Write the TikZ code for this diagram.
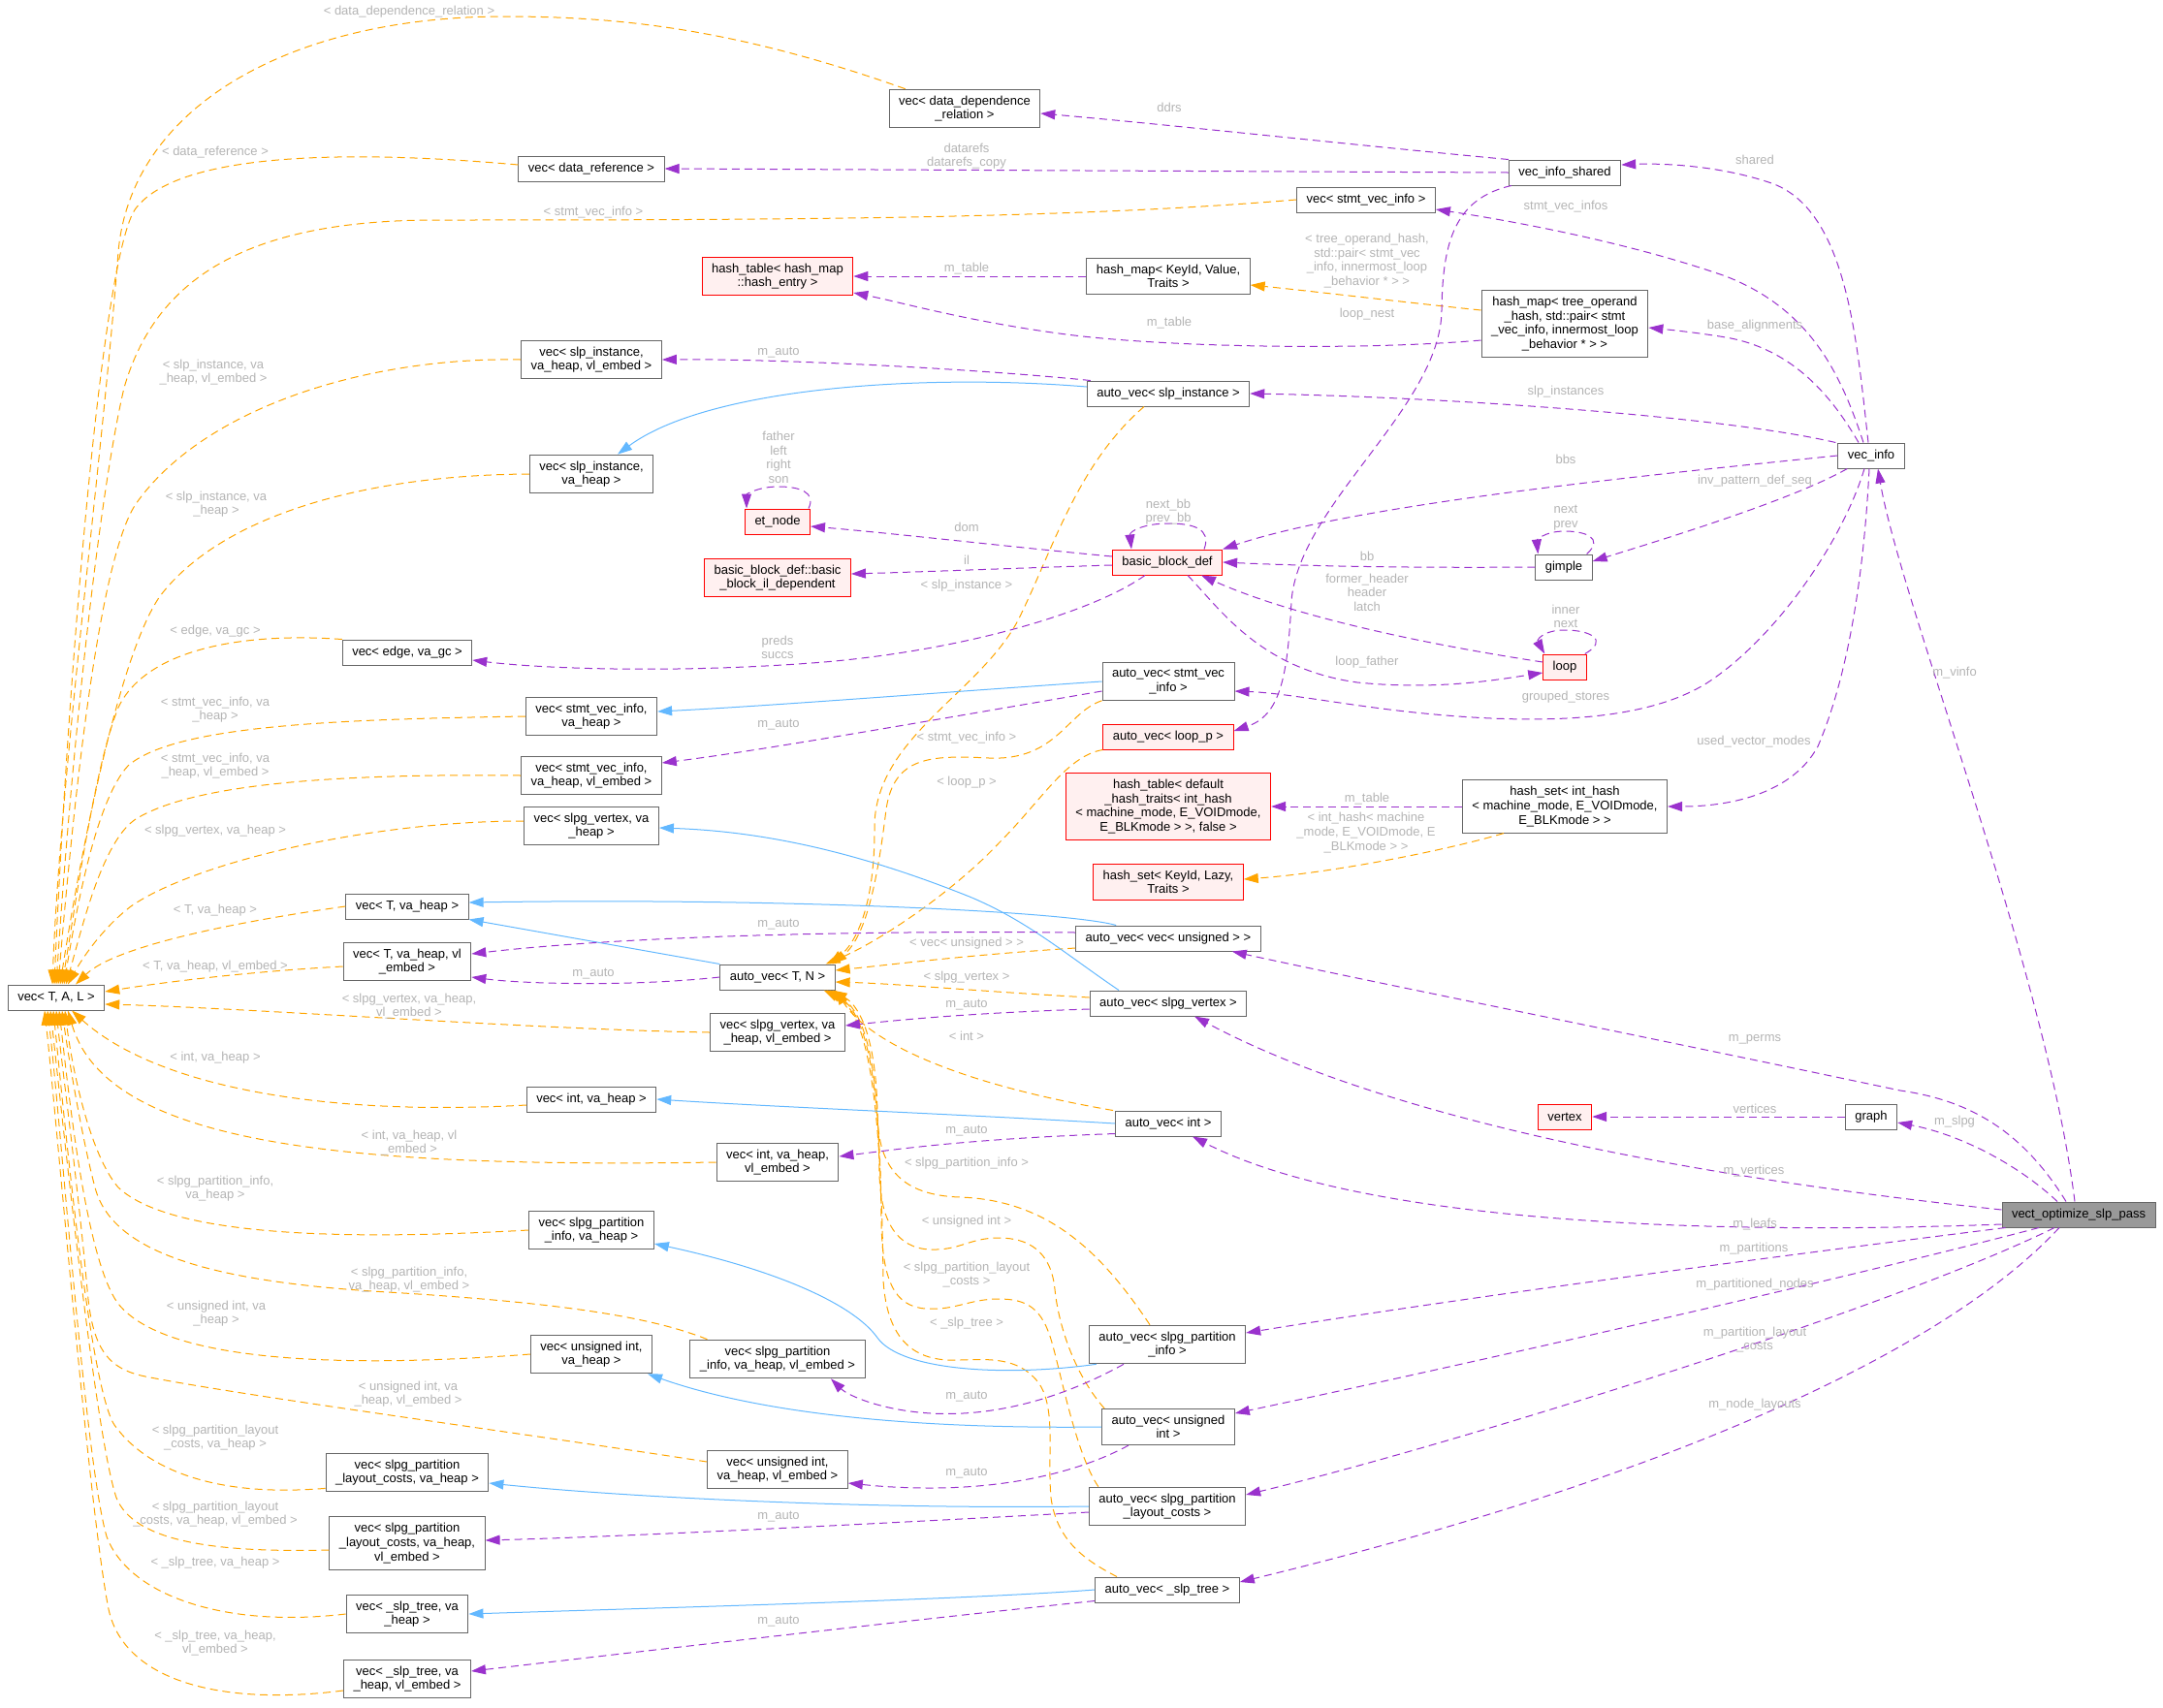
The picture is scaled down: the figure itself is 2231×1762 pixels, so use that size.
\documentclass[tikz,border=0pt]{standalone}
\usepackage{fontspec}
\setmainfont{Liberation Sans}
\usetikzlibrary{arrows.meta,calc}
\definecolor{nodeborder}{HTML}{666666}
\definecolor{undocfill}{HTML}{FFF0F0}
\definecolor{focusfill}{HTML}{999999}
\definecolor{tmplorange}{HTML}{FFA500}
\definecolor{usepurple}{HTML}{9A32CD}
\definecolor{inhblue}{HTML}{63B8FF}
\definecolor{labelgray}{HTML}{B4B4B4}

\begin{document}
\begin{tikzpicture}[
    x=1pt, y=-1pt,
    every node/.style={align=center, font=\fontsize{13}{14.6}\selectfont},
    classbox/.style={
        rectangle, draw=nodeborder, line width=1pt, fill=white,
        inner xsep=10pt, inner ysep=6.5pt, minimum height=26pt
    },
    undocbox/.style={classbox, draw=red, fill=undocfill},
    focusbox/.style={classbox, fill=focusfill},
    edgelabel/.style={text=labelgray, inner sep=0pt},
    tmplarrow/.style={draw=tmplorange, line width=1pt, dash pattern=on 8pt off 5pt,
        -{Triangle[length=15pt,width=10pt]}},
    usearrow/.style={tmplarrow, draw=usepurple},
    inharrow/.style={draw=inhblue, line width=1pt, -{Triangle[length=15pt,width=10pt]}}
]
\useasboundingbox (0,0) rectangle (2231,1762);

% class nodes
\node[classbox] (vtal) at (58,1029) {vec< T, A, L >};
\node[classbox] (ddr) at (995,112) {vec< data\_dependence\\\_relation >};
\node[classbox] (dref) at (610,174) {vec< data\_reference >};
\node[classbox] (svi) at (1409,206) {vec< stmt\_vec\_info >};
\node[undocbox] (htentry) at (802,285) {hash\_table< hash\_map\\::hash\_entry >};
\node[classbox] (hmkv) at (1205,285) {hash\_map< KeyId, Value,\\Traits >};
\node[classbox] (vis) at (1614,178) {vec\_info\_shared};
\node[classbox] (hmtree) at (1614,334) {hash\_map< tree\_operand\\\_hash, std::pair< stmt\\\_vec\_info, innermost\_loop\\\_behavior * > >};
\node[classbox] (vslpive) at (610,371) {vec< slp\_instance,\\va\_heap, vl\_embed >};
\node[classbox] (avslpi) at (1205,406) {auto\_vec< slp\_instance >};
\node[classbox] (vslpiv) at (610,489) {vec< slp\_instance,\\va\_heap >};
\node[classbox] (vinfo) at (1930,470) {vec\_info};
\node[undocbox] (etnode) at (802,538) {et\_node};
\node[undocbox] (bbd) at (1204,580) {basic\_block\_def};
\node[classbox] (gimple) at (1613,585) {gimple};
\node[undocbox] (bbil) at (802,596) {basic\_block\_def::basic\\\_block\_il\_dependent};
\node[classbox] (vedge) at (420,673) {vec< edge, va\_gc >};
\node[undocbox] (loop) at (1614,688) {loop};
\node[classbox] (avsvi) at (1205,703) {auto\_vec< stmt\_vec\\\_info >};
\node[classbox] (vsviv) at (610,739) {vec< stmt\_vec\_info,\\va\_heap >};
\node[undocbox] (avloop) at (1205,760) {auto\_vec< loop\_p >};
\node[classbox] (vsvive) at (610,800) {vec< stmt\_vec\_info,\\va\_heap, vl\_embed >};
\node[undocbox] (htdef) at (1205,832) {hash\_table< default\\\_hash\_traits< int\_hash\\< machine\_mode, E\_VOIDmode,\\E\_BLKmode > >, false >};
\node[classbox] (hsint) at (1614,832) {hash\_set< int\_hash\\< machine\_mode, E\_VOIDmode,\\E\_BLKmode > >};
\node[classbox] (vslpgv) at (610,852) {vec< slpg\_vertex, va\\\_heap >};
\node[undocbox] (hskl) at (1205,910) {hash\_set< KeyId, Lazy,\\Traits >};
\node[classbox] (vtvh) at (420,935) {vec< T, va\_heap >};
\node[classbox] (avvu) at (1205,968) {auto\_vec< vec< unsigned > >};
\node[classbox] (vtvhve) at (420,992) {vec< T, va\_heap, vl\\\_embed >};
\node[classbox] (avtn) at (802,1008) {auto\_vec< T, N >};
\node[classbox] (avslpgv) at (1205,1035) {auto\_vec< slpg\_vertex >};
\node[classbox] (vslpgvve) at (802,1065) {vec< slpg\_vertex, va\\\_heap, vl\_embed >};
\node[classbox] (vint) at (610,1134) {vec< int, va\_heap >};
\node[undocbox] (vertex) at (1614,1152) {vertex};
\node[classbox] (graph) at (1930,1152) {graph};
\node[classbox] (avint) at (1205,1159) {auto\_vec< int >};
\node[classbox] (vintve) at (802,1199) {vec< int, va\_heap,\\vl\_embed >};
\node[focusbox] (vect) at (2144,1253) {vect\_optimize\_slp\_pass};
\node[classbox] (vspiv) at (610,1269) {vec< slpg\_partition\\\_info, va\_heap >};
\node[classbox] (avspi) at (1204,1387) {auto\_vec< slpg\_partition\\\_info >};
\node[classbox] (vuiv) at (610,1397) {vec< unsigned int,\\va\_heap >};
\node[classbox] (vspive) at (802,1402) {vec< slpg\_partition\\\_info, va\_heap, vl\_embed >};
\node[classbox] (avui) at (1205,1472) {auto\_vec< unsigned\\int >};
\node[classbox] (vuive) at (802,1516) {vec< unsigned int,\\va\_heap, vl\_embed >};
\node[classbox] (vsplcv) at (420,1519) {vec< slpg\_partition\\\_layout\_costs, va\_heap >};
\node[classbox] (avsplc) at (1204,1554) {auto\_vec< slpg\_partition\\\_layout\_costs >};
\node[classbox] (vsplcve) at (420,1592) {vec< slpg\_partition\\\_layout\_costs, va\_heap,\\vl\_embed >};
\node[classbox] (avslpt) at (1204,1640) {auto\_vec< \_slp\_tree >};
\node[classbox] (vslptv) at (420,1665) {vec< \_slp\_tree, va\\\_heap >};
\node[classbox] (vslptve) at (420,1732) {vec< \_slp\_tree, va\\\_heap, vl\_embed >};

% template instances of vec< T, A, L >
\draw[tmplarrow] ($(ddr.north west)+(17,0)$) .. controls (760,30) and (640,17) .. (520,17) .. controls (300,17) and (135,110) .. (122,260) .. controls (105,480) and (62,800) .. ($(vtal.north)+(-4,0)$);
\draw[tmplarrow] ($(dref.west)+(0,-4)$) .. controls (400,158) and (190,150) .. (140,215) .. controls (105,262) and (70,700) .. ($(vtal.north)+(-2,0)$);
\draw[tmplarrow] (svi.west) .. controls (1100,226) and (800,227) .. (450,227) .. controls (250,227) and (160,290) .. (128,400) .. controls (100,520) and (72,800) .. (vtal.north);
\draw[tmplarrow] (vslpive.west) .. controls (380,368) and (210,420) .. (140,520) .. controls (100,580) and (74,850) .. ($(vtal.north)+(2,0)$);
\draw[tmplarrow] (vslpiv.west) .. controls (380,490) and (230,530) .. (165,615) .. controls (120,680) and (80,900) .. ($(vtal.north)+(4,0)$);
\draw[tmplarrow] (vedge.north west) .. controls (250,652) and (150,670) .. (122,730) .. controls (98,790) and (80,920) .. ($(vtal.north)+(6,0)$);
\draw[tmplarrow] (vsviv.west) .. controls (350,742) and (180,748) .. (132,790) .. controls (100,825) and (80,930) .. ($(vtal.north)+(8,0)$);
\draw[tmplarrow] (vsvive.west) .. controls (350,798) and (200,808) .. (140,845) .. controls (105,868) and (84,960) .. ($(vtal.north)+(10,0)$);
\draw[tmplarrow] ($(vslpgv.west)+(0,-5)$) .. controls (380,847) and (200,890) .. (135,935) .. controls (105,958) and (84,990) .. ($(vtal.north)+(12,0)$);
\draw[tmplarrow] (vtvh.west) .. controls (250,950) and (120,975) .. ($(vtal.north)+(20,0)$);
\draw[tmplarrow] ($(vtvhve.west)+(0,5)$) .. controls (260,1002) and (170,1013) .. ($(vtal.east)+(0,-6)$);
\draw[tmplarrow] (vslpgvve.west) .. controls (550,1062) and (260,1040) .. ($(vtal.east)+(0,7)$);
\draw[tmplarrow] ($(vint.west)+(0,6)$) .. controls (330,1152) and (160,1120) .. ($(vtal.south)+(16,0)$);
\draw[tmplarrow] (vintve.west) .. controls (350,1205) and (110,1180) .. ($(vtal.south)+(12,0)$);
\draw[tmplarrow] (vspiv.west) .. controls (350,1280) and (175,1275) .. (122,1225) .. controls (92,1190) and (74,1100) .. ($(vtal.south)+(9,0)$);
\draw[tmplarrow] ($(vspive.north west)+(18,0)$) .. controls (680,1362) and (600,1345) .. (400,1333) .. controls (210,1322) and (115,1290) .. (98,1225) .. controls (86,1180) and (72,1100) .. ($(vtal.south)+(6,0)$);
\draw[tmplarrow] (vuiv.west) .. controls (350,1412) and (170,1405) .. (122,1345) .. controls (88,1300) and (70,1120) .. ($(vtal.south)+(3,0)$);
\draw[tmplarrow] ($(vuive.west)+(0,-8)$) .. controls (550,1480) and (250,1440) .. (150,1420) .. controls (110,1412) and (95,1390) .. (90,1330) .. controls (80,1220) and (64,1100) .. (vtal.south);
\draw[tmplarrow] ($(vsplcv.south west)+(0,-4)$) .. controls (220,1545) and (150,1515) .. (118,1470) .. controls (92,1430) and (66,1150) .. ($(vtal.south)+(-3,0)$);
\draw[tmplarrow] ($(vsplcve.west)+(0,7)$) .. controls (220,1602) and (138,1590) .. (120,1545) .. controls (98,1480) and (64,1150) .. ($(vtal.south)+(-6,0)$);
\draw[tmplarrow] (vslptv.west) .. controls (230,1680) and (132,1645) .. (110,1585) .. controls (88,1510) and (62,1150) .. ($(vtal.south)+(-9,0)$);
\draw[tmplarrow] ($(vslptve.west)+(0,12)$) .. controls (230,1760) and (128,1735) .. (112,1660) .. controls (92,1560) and (58,1150) .. ($(vtal.south)+(-12,0)$);

% template instances of auto_vec< T, N >
\draw[tmplarrow] ($(avslpi.south)+(-25,0)$) .. controls (1110,480) and (1085,570) .. (1050,640) .. controls (1010,715) and (905,760) .. (902,850) .. controls (903,940) and (880,975) .. ($(avtn.north east)+(-6,0)$);
\draw[tmplarrow] (avsvi.south west) .. controls (1100,735) and (1090,785) .. (1020,782) .. controls (960,779) and (922,780) .. (914,835) .. controls (906,900) and (895,965) .. ($(avtn.north east)+(-3,0)$);
\draw[tmplarrow] (avloop.south west) .. controls (1100,780) and (1075,825) .. (1030,870) .. controls (985,918) and (910,970) .. ($(avtn.north east)+(-10,0)$);
\draw[tmplarrow] ($(avvu.west)+(0,10)$) .. controls (1000,985) and (920,995) .. ($(avtn.east)+(0,-7)$);
\draw[tmplarrow] ($(avslpgv.west)+(0,-6)$) .. controls (1000,1022) and (930,1015) .. ($(avtn.east)+(0,5)$);
\draw[tmplarrow] ($(avint.north west)+(-2,0)$) .. controls (1000,1120) and (900,1080) .. (avtn.south east);
\draw[tmplarrow] ($(avspi.north)+(-18,0)$) .. controls (1135,1290) and (1080,1238) .. (990,1235) .. controls (930,1233) and (906,1205) .. (905,1150) .. controls (904,1080) and (890,1040) .. ($(avtn.south east)+(-3,0)$);
\draw[tmplarrow] ($(avui.north west)+(3,0)$) .. controls (1110,1420) and (1092,1370) .. (1088,1330) .. controls (1084,1290) and (1060,1277) .. (1030,1277) .. controls (1000,1277) and (990,1290) .. (960,1289) .. controls (925,1288) and (908,1260) .. (907,1210) .. controls (906,1100) and (893,1045) .. ($(avtn.south east)+(-6,0)$);
\draw[tmplarrow] ($(avsplc.north west)+(10,0)$) .. controls (1110,1500) and (1095,1420) .. (1085,1385) .. controls (1075,1350) and (1060,1340) .. (1030,1340) .. controls (1000,1340) and (985,1352) .. (955,1350) .. controls (922,1348) and (910,1320) .. (909,1260) .. controls (908,1120) and (895,1045) .. ($(avtn.south east)+(-9,0)$);
\draw[tmplarrow] ($(avslpt.north)+(-52,0)$) .. controls (1120,1610) and (1090,1590) .. (1084,1545) .. controls (1080,1500) and (1090,1450) .. (1070,1425) .. controls (1050,1400) and (1020,1402) .. (990,1403) .. controls (950,1405) and (915,1390) .. (911,1320) .. controls (909,1150) and (898,1045) .. ($(avtn.south east)+(-12,0)$);

% other template instances
\draw[tmplarrow] ($(hmtree.west)+(0,-14)$) .. controls (1450,312) and (1350,300) .. ($(hmkv.east)+(0,9)$);
\draw[tmplarrow] ($(hsint.south west)+(43,0)$) .. controls (1500,875) and (1380,900) .. ($(hskl.east)+(0,-3)$);

% inheritance
\draw[inharrow] ($(avslpi.west)+(0,-7)$) .. controls (950,385) and (730,400) .. ($(vslpiv.north)+(27,0)$);
\draw[inharrow] (avsvi.west) .. controls (1000,712) and (800,728) .. ($(vsviv.east)+(0,-5)$);
\draw[inharrow] ($(avslpgv.north)+(-51,0)$) .. controls (1100,985) and (1060,950) .. (1000,925) .. controls (900,885) and (800,858) .. ($(vslpgv.east)+(0,2)$);
\draw[inharrow] ($(avvu.north west)+(42,0)$) .. controls (1100,940) and (800,926) .. ($(vtvh.east)+(0,-4)$);
\draw[inharrow] (avtn.north west) -- (vtvh.south east);
\draw[inharrow] (avint.west) .. controls (1000,1150) and (800,1142) .. (vint.east);
\draw[inharrow] ($(avspi.south west)+(8,0)$) .. controls (1040,1420) and (930,1415) .. (905,1380) .. controls (880,1345) and (800,1310) .. ($(vspiv.east)+(0,14)$);
\draw[inharrow] (avui.west) .. controls (900,1475) and (760,1450) .. ($(vuiv.south east)+(-5,0)$);
\draw[inharrow] (avsplc.west) .. controls (900,1557) and (650,1545) .. ($(vsplcv.east)+(0,11)$);
\draw[inharrow] (avslpt.west) .. controls (1000,1650) and (700,1658) .. (vslptv.east);

% m_auto members
\draw[usearrow] ($(avslpi.north west)+(4,0)$) .. controls (1000,380) and (800,370) .. (vslpive.east);
\draw[usearrow] ($(avsvi.west)+(0,10)$) .. controls (950,745) and (780,775) .. ($(vsvive.east)+(0,-13)$);
\draw[usearrow] ($(avvu.west)+(0,-6)$) .. controls (900,960) and (650,965) .. ($(vtvhve.east)+(0,-8)$);
\draw[usearrow] (avtn.west) .. controls (650,1018) and (540,1015) .. ($(vtvhve.east)+(0,16)$);
\draw[usearrow] ($(avslpgv.west)+(0,6)$) .. controls (1000,1045) and (930,1052) .. ($(vslpgvve.east)+(0,-7)$);
\draw[usearrow] ($(avint.south west)+(0,-3)$) .. controls (1000,1175) and (930,1185) .. ($(vintve.east)+(0,-6)$);
\draw[usearrow] ($(avspi.south)+(-45,0)$) .. controls (1100,1440) and (1030,1462) .. (960,1458) .. controls (910,1455) and (875,1440) .. ($(vspive.south)+(55,0)$);
\draw[usearrow] ($(avui.south)+(-41,0)$) .. controls (1120,1515) and (1050,1535) .. (960,1535) .. controls (920,1535) and (895,1532) .. ($(vuive.east)+(0,14)$);
\draw[usearrow] ($(avsplc.west)+(0,6)$) .. controls (900,1572) and (650,1585) .. ($(vsplcve.east)+(0,-3)$);
\draw[usearrow] ($(avslpt.south west)+(0,-2)$) .. controls (950,1670) and (650,1705) .. ($(vslptve.east)+(0,-8)$);

% hash tables
\draw[usearrow] (hmkv.west) -- (htentry.east);
\draw[usearrow] ($(hmtree.west)+(0,17)$) .. controls (1400,362) and (1200,358) .. (1100,345) .. controls (1000,332) and (930,312) .. ($(htentry.east)+(0,17)$);
\draw[usearrow] (hsint.west) -- (htdef.east);

% vec_info_shared
\draw[usearrow] (vis.north west) .. controls (1400,150) and (1200,128) .. ($(ddr.east)+(0,5)$);
\draw[usearrow] (vis.west) -- (dref.east);
\draw[usearrow] ($(vis.south west)+(3,0)$) .. controls (1500,205) and (1488,250) .. (1487,320) .. controls (1486,420) and (1340,520) .. (1332,620) .. controls (1328,700) and (1320,738) .. ($(avloop.east)+(0,-6)$);

% vec_info
\draw[usearrow] ($(vinfo.north)+(-3,0)$) .. controls (1915,350) and (1905,220) .. (1830,190) .. controls (1780,172) and (1720,168) .. ($(vis.east)+(0,-8)$);
\draw[usearrow] ($(vinfo.north)+(-8,0)$) .. controls (1900,390) and (1870,320) .. (1780,285) .. controls (1680,250) and (1560,228) .. ($(svi.east)+(0,10)$);
\draw[usearrow] ($(vinfo.north)+(-13,0)$) .. controls (1890,410) and (1850,360) .. (1780,348) .. controls (1750,343) and (1720,340) .. ($(hmtree.east)+(0,4)$);
\draw[usearrow] ($(vinfo.north west)+(-2,0)$) .. controls (1780,430) and (1500,410) .. (avslpi.east);
\draw[usearrow] (vinfo.west) .. controls (1700,490) and (1400,520) .. (bbd.north east);
\draw[usearrow] ($(vinfo.south west)+(10,0)$) .. controls (1850,515) and (1720,555) .. ($(gimple.east)+(0,-6)$);
\draw[usearrow] ($(vinfo.south)+(-7,0)$) .. controls (1900,560) and (1830,660) .. (1760,705) .. controls (1700,742) and (1600,748) .. (1480,737) .. controls (1400,730) and (1330,715) .. ($(avsvi.east)+(0,10)$);
\draw[usearrow] ($(vinfo.south)+(-2,0)$) .. controls (1922,600) and (1905,700) .. (1875,770) .. controls (1845,825) and (1770,832) .. (hsint.east);

% basic blocks, loops, gimple
\draw[usearrow] ($(bbd.west)+(0,-6)$) .. controls (1050,565) and (920,550) .. ($(etnode.east)+(0,5)$);
\draw[usearrow] ($(bbd.west)+(0,3)$) .. controls (1050,586) and (950,590) .. ($(bbil.east)+(0,-4)$);
\draw[usearrow] ($(bbd.south)+(-23,0)$) .. controls (1130,630) and (1000,670) .. (850,683) .. controls (700,695) and (560,690) .. ($(vedge.east)+(0,8)$);
\draw[usearrow] ($(bbd.north)+(38,0)$) .. controls (1250,545) and (1230,540) .. (1205,540) .. controls (1180,540) and (1165,548) .. ($(bbd.north)+(-37,0)$);
\draw[usearrow] (gimple.west) .. controls (1450,586) and (1350,584) .. (bbd.east);
\draw[usearrow] ($(gimple.north east)+(-6,0)$) .. controls (1655,555) and (1635,548) .. (1614,548) .. controls (1592,548) and (1585,558) .. ($(gimple.north west)+(3,0)$);
\draw[usearrow] ($(loop.west)+(0,-5)$) .. controls (1440,660) and (1320,630) .. ($(bbd.south)+(35,0)$);
\draw[usearrow] ($(bbd.south)+(21,0)$) .. controls (1260,630) and (1300,690) .. (1400,704) .. controls (1480,712) and (1540,702) .. ($(loop.west)+(0,6)$);
\draw[usearrow] ($(loop.north east)+(-2,0)$) .. controls (1660,660) and (1640,650) .. (1614,650) .. controls (1592,650) and (1585,660) .. ($(loop.north west)+(2,0)$);
\draw[usearrow] ($(etnode.north east)+(-2,0)$) .. controls (842,508) and (825,502) .. (803,502) .. controls (782,502) and (770,510) .. ($(etnode.north west)+(2,0)$);
\draw[usearrow] (graph.west) -- (vertex.east);

% vect_optimize_slp_pass
\draw[usearrow] ($(vect.north)+(-4,0)$) .. controls (2110,1000) and (1960,620) .. ($(vinfo.south)+(7,0)$);
\draw[usearrow] ($(vect.north)+(-22,0)$) .. controls (2080,1200) and (2020,1170) .. ($(graph.east)+(0,6)$);
\draw[usearrow] ($(vect.north)+(-13,0)$) .. controls (2085,1165) and (2030,1135) .. (1960,1125) .. controls (1700,1070) and (1400,1010) .. ($(avvu.south east)+(-30,0)$);
\draw[usearrow] ($(vect.west)+(0,-5)$) .. controls (1800,1220) and (1450,1165) .. ($(avslpgv.south)+(27,0)$);
\draw[usearrow] ($(vect.west)+(0,10)$) .. controls (1750,1275) and (1400,1260) .. ($(avint.south)+(25,0)$);
\draw[usearrow] ($(vect.south west)+(4,0)$) .. controls (1800,1300) and (1500,1340) .. ($(avspi.east)+(0,-12)$);
\draw[usearrow] ($(vect.south)+(-41,0)$) .. controls (1900,1320) and (1500,1410) .. ($(avui.east)+(0,-14)$);
\draw[usearrow] ($(vect.south)+(-25,0)$) .. controls (1950,1350) and (1500,1490) .. ($(avsplc.east)+(0,-12)$);
\draw[usearrow] ($(vect.south)+(-20,0)$) .. controls (2000,1400) and (1700,1530) .. ($(avslpt.east)+(0,-8)$);

% edge labels
\node[edgelabel] (lddr) at (422,12) {< data\_dependence\_relation >};
\node[edgelabel] (ldref) at (222,157) {< data\_reference >};
\node[edgelabel] (lsvi) at (612,219) {< stmt\_vec\_info >};
\node[edgelabel] (lslpive) at (220,384) {< slp\_instance, va\\\_heap, vl\_embed >};
\node[edgelabel] (lslpiv) at (223,520) {< slp\_instance, va\\\_heap >};
\node[edgelabel] (ledge) at (222,651) {< edge, va\_gc >};
\node[edgelabel] (lsviv) at (222,732) {< stmt\_vec\_info, va\\\_heap >};
\node[edgelabel] (lsvive) at (222,790) {< stmt\_vec\_info, va\\\_heap, vl\_embed >};
\node[edgelabel] (lslpgv) at (222,857) {< slpg\_vertex, va\_heap >};
\node[edgelabel] (ltvh) at (222,939) {< T, va\_heap >};
\node[edgelabel] (ltvhve) at (222,997) {< T, va\_heap, vl\_embed >};
\node[edgelabel] (lslpgvve) at (422,1038) {< slpg\_vertex, va\_heap,\\vl\_embed >};
\node[edgelabel] (lint) at (222,1091) {< int, va\_heap >};
\node[edgelabel] (lintve) at (422,1179) {< int, va\_heap, vl\\\_embed >};
\node[edgelabel] (lspiv) at (222,1226) {< slpg\_partition\_info,\\va\_heap >};
\node[edgelabel] (lspive) at (422,1320) {< slpg\_partition\_info,\\va\_heap, vl\_embed >};
\node[edgelabel] (luiv) at (223,1355) {< unsigned int, va\\\_heap >};
\node[edgelabel] (luive) at (421,1438) {< unsigned int, va\\\_heap, vl\_embed >};
\node[edgelabel] (lsplcv) at (222,1483) {< slpg\_partition\_layout\\\_costs, va\_heap >};
\node[edgelabel] (lsplcve) at (222,1562) {< slpg\_partition\_layout\\\_costs, va\_heap, vl\_embed >};
\node[edgelabel] (lslptv) at (222,1612) {< \_slp\_tree, va\_heap >};
\node[edgelabel] (lslptve) at (222,1695) {< \_slp\_tree, va\_heap,\\vl\_embed >};

\node[edgelabel] (laslpi) at (997,604) {< slp\_instance >};
\node[edgelabel] (lasvi) at (997,761) {< stmt\_vec\_info >};
\node[edgelabel] (laloop) at (997,807) {< loop\_p >};
\node[edgelabel] (lavu) at (997,973) {< vec< unsigned > >};
\node[edgelabel] (laslpgv) at (997,1008) {< slpg\_vertex >};
\node[edgelabel] (laint) at (997,1069) {< int >};
\node[edgelabel] (laspi) at (997,1200) {< slpg\_partition\_info >};
\node[edgelabel] (laui) at (997,1260) {< unsigned int >};
\node[edgelabel] (lasplc) at (997,1315) {< slpg\_partition\_layout\\\_costs >};
\node[edgelabel] (laslpt) at (997,1365) {< \_slp\_tree >};

\node[edgelabel] (lmauto1) at (803,364) {m\_auto};
\node[edgelabel] (lmauto2) at (803,748) {m\_auto};
\node[edgelabel] (lmauto3) at (803,954) {m\_auto};
\node[edgelabel] (lmauto4) at (612,1005) {m\_auto};
\node[edgelabel] (lmauto5) at (997,1037) {m\_auto};
\node[edgelabel] (lmauto6) at (997,1167) {m\_auto};
\node[edgelabel] (lmauto7) at (997,1441) {m\_auto};
\node[edgelabel] (lmauto8) at (997,1520) {m\_auto};
\node[edgelabel] (lmauto9) at (803,1565) {m\_auto};
\node[edgelabel] (lmauto10) at (803,1673) {m\_auto};

\node[edgelabel] (lmtable1) at (997,277) {m\_table};
\node[edgelabel] (lmtable2) at (1206,333) {m\_table};
\node[edgelabel] (lmtable3) at (1410,824) {m\_table};
\node[edgelabel] (ltree) at (1410,269) {< tree\_operand\_hash,\\std::pair< stmt\_vec\\\_info, innermost\_loop\\\_behavior * > >};
\node[edgelabel] (lloopnest) at (1410,324) {loop\_nest};
\node[edgelabel] (lddrs) at (1206,111) {ddrs};
\node[edgelabel] (ldatarefs) at (997,161) {datarefs\\datarefs\_copy};
\node[edgelabel] (lfather) at (803,472) {father\\left\\right\\son};
\node[edgelabel] (lnextbb) at (1205,528) {next\_bb\\prev\_bb};
\node[edgelabel] (ldom) at (997,544) {dom};
\node[edgelabel] (lil) at (997,578) {il};
\node[edgelabel] (lbb) at (1410,574) {bb};
\node[edgelabel] (lformer) at (1410,611) {former\_header\\header\\latch};
\node[edgelabel] (lshared) at (1810,165) {shared};
\node[edgelabel] (lsvis) at (1615,213) {stmt\_vec\_infos};
\node[edgelabel] (lbase) at (1810,336) {base\_alignments};
\node[edgelabel] (lslpis) at (1615,404) {slp\_instances};
\node[edgelabel] (lbbs) at (1615,474) {bbs};
\node[edgelabel] (linv) at (1810,496) {inv\_pattern\_def\_seq};
\node[edgelabel] (lnextprev) at (1615,534) {next\\prev};
\node[edgelabel] (lpreds) at (802,668) {preds\\succs};
\node[edgelabel] (lloopfather) at (1410,683) {loop\_father};
\node[edgelabel] (linner) at (1615,636) {inner\\next};
\node[edgelabel] (lgrouped) at (1615,719) {grouped\_stores};
\node[edgelabel] (lused) at (1809,765) {used\_vector\_modes};
\node[edgelabel] (linthash) at (1409,859) {< int\_hash< machine\\\_mode, E\_VOIDmode, E\\\_BLKmode > >};
\node[edgelabel] (lvinfo) at (2016,694) {m\_vinfo};
\node[edgelabel] (lperms) at (1810,1072) {m\_perms};
\node[edgelabel] (lvertices) at (1810,1144) {vertices};
\node[edgelabel] (lslpg) at (2016,1157) {m\_slpg};
\node[edgelabel] (lmvertices) at (1809,1208) {m\_vertices};
\node[edgelabel] (lleafs) at (1810,1263) {m\_leafs};
\node[edgelabel] (lpartitions) at (1809,1288) {m\_partitions};
\node[edgelabel] (lpnodes) at (1810,1325) {m\_partitioned\_nodes};
\node[edgelabel] (lplc) at (1810,1382) {m\_partition\_layout\\\_costs};
\node[edgelabel] (lnodelayouts) at (1810,1449) {m\_node\_layouts};
\end{tikzpicture}
\end{document}
